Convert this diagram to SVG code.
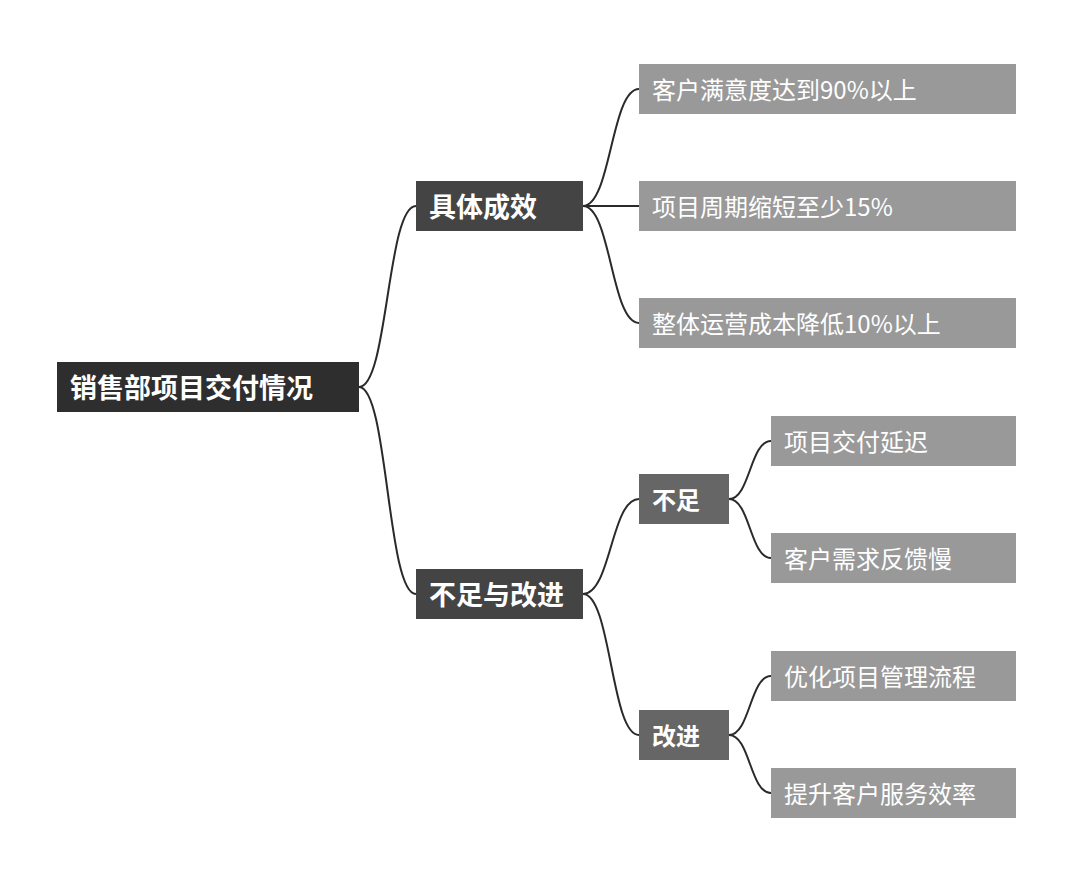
<svg xmlns="http://www.w3.org/2000/svg" width="1080" height="875" viewBox="0 0 1080 875">
<style>
.t{font-family:"Noto Sans CJK SC","Noto Sans",sans-serif;fill:#ffffff;dominant-baseline:central}
.b{font-weight:bold}
.c{fill:none;stroke:#2a2a2a;stroke-width:2}
</style>
<rect width="1080" height="875" fill="#ffffff"/>
<g id="connectors">
<path class="c" d="M359,387 C388,387 387,206 416,206"/>
<path class="c" d="M359,387 C388,387 387,594 416,594"/>
<path class="c" d="M583,206 C611,206 611,89 639,89"/>
<path class="c" d="M583,206 L639,206"/>
<path class="c" d="M583,206 C611,206 611,323 639,323"/>
<path class="c" d="M583,594 C611,594 611,499 639,499"/>
<path class="c" d="M583,594 C611,594 611,735 639,735"/>
<path class="c" d="M729,499 C750,499 750,441 771,441"/>
<path class="c" d="M729,499 C750,499 750,558 771,558"/>
<path class="c" d="M729,735 C750,735 750,676 771,676"/>
<path class="c" d="M729,735 C750,735 750,793 771,793"/>
</g>
<g id="root">
<rect x="57" y="362" width="302" height="50" fill="#2e2e2e"/>
<text class="t b" x="70" y="386" font-size="27">销售部项目交付情况</text>
</g>
<g id="n1">
<rect x="416" y="181" width="167" height="50" fill="#444444"/>
<text class="t b" x="429" y="205" font-size="27">具体成效</text>
</g>
<g id="n2">
<rect x="416" y="569" width="167" height="50" fill="#444444"/>
<text class="t b" x="429" y="593" font-size="27">不足与改进</text>
</g>
<g id="n11">
<rect x="639" y="64" width="377" height="50" fill="#999999"/>
<text class="t" x="652" y="88" font-size="24">客户满意度达到90%以上</text>
</g>
<g id="n12">
<rect x="639" y="181" width="377" height="50" fill="#999999"/>
<text class="t" x="652" y="205" font-size="24">项目周期缩短至少15%</text>
</g>
<g id="n13">
<rect x="639" y="298" width="377" height="50" fill="#999999"/>
<text class="t" x="652" y="322" font-size="24">整体运营成本降低10%以上</text>
</g>
<g id="n21">
<rect x="639" y="474" width="90" height="50" fill="#666666"/>
<text class="t b" x="652" y="498" font-size="24">不足</text>
</g>
<g id="n22">
<rect x="639" y="710" width="90" height="50" fill="#666666"/>
<text class="t b" x="652" y="734" font-size="24">改进</text>
</g>
<g id="n211">
<rect x="771" y="416" width="245" height="50" fill="#999999"/>
<text class="t" x="784" y="440" font-size="24">项目交付延迟</text>
</g>
<g id="n212">
<rect x="771" y="533" width="245" height="50" fill="#999999"/>
<text class="t" x="784" y="557" font-size="24">客户需求反馈慢</text>
</g>
<g id="n221">
<rect x="771" y="651" width="245" height="50" fill="#999999"/>
<text class="t" x="784" y="675" font-size="24">优化项目管理流程</text>
</g>
<g id="n222">
<rect x="771" y="768" width="245" height="50" fill="#999999"/>
<text class="t" x="784" y="792" font-size="24">提升客户服务效率</text>
</g>
</svg>
